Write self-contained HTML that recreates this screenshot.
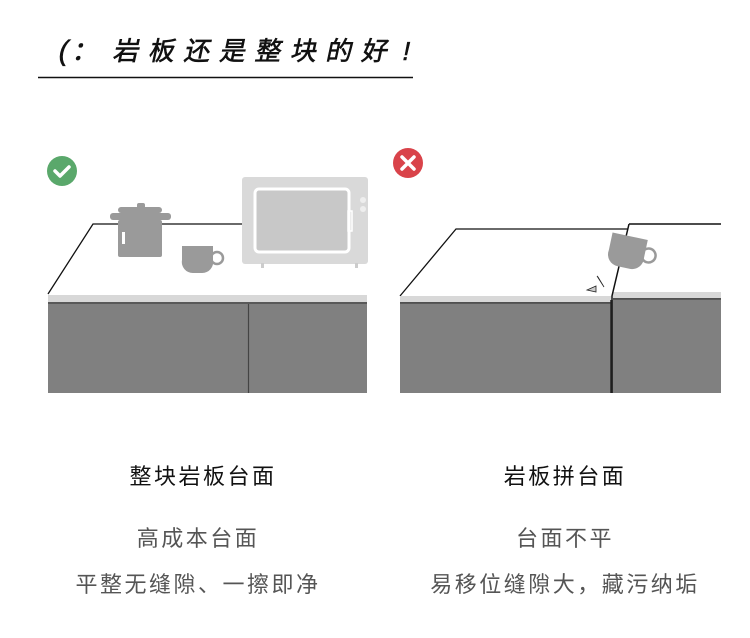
<!DOCTYPE html>
<html><head><meta charset="utf-8"><style>
html,body{margin:0;padding:0;background:#fff;}
body{width:750px;height:638px;overflow:hidden;position:relative;font-family:"Liberation Sans","Noto Sans CJK SC",sans-serif;}
.t{position:absolute;text-align:center;white-space:nowrap;font-size:22px;letter-spacing:2.5px;}
</style></head><body>
<svg width="750" height="638" style="position:absolute;left:0;top:0">
<g font-family="Liberation Sans, Noto Sans CJK SC, sans-serif" fill="#111" stroke="#111" stroke-width="0.6">
<text x="58" y="60" font-size="28" transform="skewX(-12) translate(12,0)">(</text>
<text x="72" y="60" font-size="26" transform="skewX(-12) translate(12,0)">：</text>
<text x="113" y="60" font-size="26" letter-spacing="9.5" transform="skewX(-12) translate(12,0)">岩板还是整块的好</text>
<text x="402" y="60" font-size="26" transform="skewX(-12) translate(12,0)">!</text>
</g>
<line x1="38" y1="77.5" x2="413" y2="77.5" stroke="#111" stroke-width="1.5"/>

<circle cx="62" cy="171" r="15" fill="#5aa86b"/>
<path d="M55 171 l5 5 l9 -9" stroke="#fff" stroke-width="3.5" fill="none" stroke-linecap="round" stroke-linejoin="round"/>
<path d="M48 294 L93 224 L245 224" stroke="#111" stroke-width="1.3" fill="none"/>
<rect x="48" y="295" width="319" height="7" fill="#d8d8d8"/>
<line x1="48" y1="303" x2="367" y2="303" stroke="#222" stroke-width="1.5"/>
<rect x="48" y="304" width="319" height="89" fill="#808080"/>
<line x1="248.5" y1="304" x2="248.5" y2="393" stroke="#444" stroke-width="1.2"/>
<rect x="242" y="177" width="126" height="87" rx="3" fill="#d9d9d9"/>
<rect x="255" y="189" width="94" height="63" rx="4" fill="#c8c8c8" stroke="#fff" stroke-width="3"/>
<rect x="348" y="211" width="4" height="20" fill="none" stroke="#fff" stroke-width="1.5"/>
<circle cx="363" cy="200" r="3" fill="#eee"/><circle cx="363" cy="209" r="3" fill="#eee"/>
<rect x="261" y="263" width="3" height="5" fill="#ccc"/><rect x="355" y="263" width="3" height="5" fill="#ccc"/>
<rect x="118" y="220" width="44" height="37" rx="2" fill="#9a9a9a"/>
<rect x="110" y="213" width="61" height="7" rx="3" fill="#9a9a9a"/>
<rect x="118" y="207" width="44" height="6" rx="3" fill="#9a9a9a"/>
<rect x="137" y="203" width="8" height="6" rx="2" fill="#9a9a9a"/>
<rect x="122" y="232" width="3" height="12" fill="#fff"/>
<path d="M182 246 h31 v14 a11 11 0 0 1 -11 13 h-9 a11 11 0 0 1 -11 -13z" fill="#9a9a9a"/>
<circle cx="217" cy="258" r="6" fill="none" stroke="#9a9a9a" stroke-width="2.5"/>

<circle cx="408" cy="163" r="15" fill="#d9434a"/>
<path d="M402 157 l12 12 M414 157 l-12 12" stroke="#fff" stroke-width="3.5" stroke-linecap="round"/>
<path d="M400 296 L456 229 L628 229" stroke="#111" stroke-width="1.3" fill="none"/>
<rect x="400" y="296" width="211" height="7" fill="#d8d8d8"/>
<line x1="400" y1="303" x2="611" y2="303" stroke="#222" stroke-width="1.5"/>
<rect x="400" y="304" width="211" height="89" fill="#808080"/>
<rect x="613" y="292" width="108" height="7" fill="#d8d8d8"/>
<line x1="613" y1="299" x2="721" y2="299" stroke="#222" stroke-width="1.5"/>
<rect x="612" y="300" width="109" height="93" fill="#808080"/>
<path d="M629 224 L721 224 M629 224 L612 296 L612 393" stroke="#111" stroke-width="1.5" fill="none"/>
<line x1="611" y1="300" x2="611" y2="393" stroke="#222" stroke-width="1.5"/>
<g transform="rotate(12 627 256)">
<path d="M608 236 h36 v18 a12 12 0 0 1 -12 14 h-12 a12 12 0 0 1 -12 -14z" fill="#9a9a9a"/>
<circle cx="648" cy="251" r="7" fill="none" stroke="#9a9a9a" stroke-width="2.5"/>
</g>
<path d="M587 290 l9 -4 l0 6z M597 276 l7 11 l-6 -10z" fill="#ccc" stroke="#222" stroke-width="0.8"/>
</svg>
<div class="t" style="left:93px;width:220px;top:459px;color:#111">整块岩板台面</div>
<div class="t" style="left:455px;width:220px;top:459px;color:#111">岩板拼台面</div>
<div class="t" style="left:88px;width:220px;top:521px;color:#555">高成本台面</div>
<div class="t" style="left:38px;width:320px;top:567px;color:#555">平整无缝隙、一擦即净</div>
<div class="t" style="left:455px;width:220px;top:521px;color:#555">台面不平</div>
<div class="t" style="left:395px;width:340px;top:567px;color:#555">易移位缝隙大，藏污纳垢</div>
</body></html>
